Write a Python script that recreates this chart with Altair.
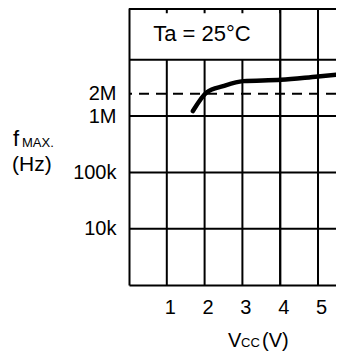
import altair as alt
import pandas as pd

# Data
vcc = [1.69, 2.06, 2.49, 3.02, 4.02, 5.0, 5.69]
fmax = [1.23e6, 2.66e6, 3.41e6, 4.18e6, 4.41e6, 5.07e6, 5.57e6]

x_ticks = [1, 2, 3, 4, 5]
y_ticks = [1e4, 1e5, 1e6, 2.5e6]
y_tick_labels = ["10k", "100k", "1M", "2M"]
y_grid = [1e4, 1e5, 1e6, 1e7]
ref_level = [2.5e6]
box_x = [0, 4]
box_y = [1e7, 6.7e7]

X_DOMAIN = [0, 5.476]
Y_DOMAIN = [1e3, 8.32e7]
W, H = 207, 277
FONT = "Arial"

label_expr = ""
for v, l in zip(y_ticks, y_tick_labels):
    label_expr += f"datum.value == {v} ? '{l}' : "
label_expr += "''"

xs = alt.Scale(domain=X_DOMAIN, nice=False, zero=False)
ys = alt.Scale(type="log", domain=Y_DOMAIN, nice=False)

curve_df = pd.DataFrame({"v": vcc, "f": fmax})
vgrid_df = pd.DataFrame({"v": x_ticks})
hgrid_df = pd.DataFrame({"f": y_grid})
ref_df = pd.DataFrame({"f": ref_level})
box_df = pd.DataFrame({"x1": [box_x[0]], "x2": [box_x[1]], "y1": [box_y[0]], "y2": [box_y[1]]})

x_axis = alt.Axis(values=x_ticks, title=None, grid=False, ticks=False, domain=True,
                  domainColor="black", domainWidth=2, labelFont=FONT, labelFontSize=20,
                  labelColor="black", labelPadding=12, labelOffset=3, zindex=1)
y_axis = alt.Axis(values=y_ticks, title=None, grid=False, ticks=False, domain=True,
                  domainColor="black", domainWidth=2, labelFont=FONT, labelFontSize=20,
                  labelColor="black", labelPadding=13, labelExpr=label_expr, zindex=1)

vgrid = alt.Chart(vgrid_df).mark_rule(color="black", strokeWidth=2).encode(
    x=alt.X("v:Q", scale=xs, axis=x_axis))

box = alt.Chart(box_df).mark_rect(color="white").encode(
    x=alt.X("x1:Q", scale=xs), x2="x2:Q",
    y=alt.Y("y1:Q", scale=ys, axis=y_axis), y2="y2:Q")

vgrid_top = alt.Chart(vgrid_df).mark_rule(color="black", strokeWidth=2).encode(
    x=alt.X("v:Q", scale=xs)).transform_filter(alt.datum.v >= box_x[1])

hgrid = alt.Chart(hgrid_df).mark_rule(color="black", strokeWidth=2).encode(
    y=alt.Y("f:Q", scale=ys))

top_border = alt.Chart(hgrid_df).mark_rule(color="black", strokeWidth=2).encode(
    x=alt.value(0), x2=alt.value(W), y=alt.value(1))

ref = alt.Chart(ref_df).mark_rule(color="black", strokeWidth=2, strokeDash=[10, 7]).encode(
    y=alt.Y("f:Q", scale=ys))

curve = alt.Chart(curve_df).mark_line(color="black", strokeWidth=4.5, strokeCap="round",
                                      interpolate="monotone", clip=True).encode(
    x=alt.X("v:Q", scale=xs), y=alt.Y("f:Q", scale=ys))

def txt(s, x, y, size, align="left"):
    return alt.Chart(pd.DataFrame({"t": [s]})).mark_text(
        font=FONT, fontSize=size, color="black", align=align, baseline="alphabetic").encode(
        text="t:N", x=alt.value(x), y=alt.value(y))

labels = (txt("Ta = 25°C", 73, 33, 22, "center")
          + txt("f", -116, 138, 22) + txt("MAX.", -107, 139, 13)
          + txt("(Hz)", -117, 163, 21)
          + txt("V", 99, 339, 20) + txt("CC", 112, 339, 13) + txt("(V)", 133, 339, 20))

chart = alt.layer(vgrid, box, vgrid_top, hgrid, top_border, ref, curve, labels).properties(
    width=W, height=H,
    autosize=alt.AutoSizeParams(type="none"),
    padding={"left": 121, "top": 0, "right": 0, "bottom": 67},
).configure_view(stroke=None)

chart.save("out.html", embed_options={"renderer": "svg", "actions": False})
